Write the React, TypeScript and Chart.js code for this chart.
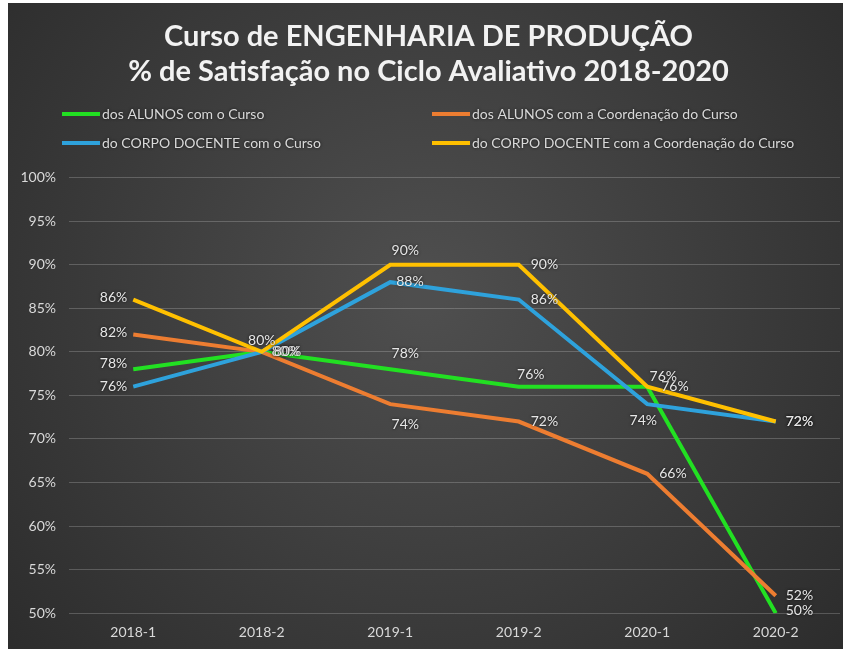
import React, { useEffect, useRef } from "react";
import { Chart, registerables } from "chart.js";

Chart.register(...registerables);

const categories = ["2018-1", "2018-2", "2019-1", "2019-2", "2020-1", "2020-2"];
const alunosCurso = [78, 80, 78, 76, 76, 50];
const alunosCoordenacao = [82, 80, 74, 72, 66, 52];
const docenteCurso = [76, 80, 88, 86, 74, 72];
const docenteCoordenacao = [86, 80, 90, 90, 76, 72];
const seriesNames = [
  "dos ALUNOS com o Curso",
  "dos ALUNOS com a Coordenação do Curso",
  "do CORPO DOCENTE com o Curso",
  "do CORPO DOCENTE com a Coordenação do Curso",
];
const titleLines = ["Curso de ENGENHARIA DE PRODUÇÃO", "% de Satisfação no Ciclo Avaliativo 2018-2020"];
const yMin = 50;
const yMax = 100;
const yStep = 5;

const colors = ["#22e022", "#ed7d31", "#2ea2dc", "#ffc000"];

// label placement per series/point: [mode, dx, dy]
const labelPlacement: [string, number, number][][] = [
  [["l", 0, -6], ["r", 4, 0], ["a", 15, -2], ["a", 12, 2], ["r", 8, 0], ["r", 4, -3]],
  [["l", 0, -2], ["r", 4, 0], ["b", 15, 6], ["r", 6, 0], ["r", 6, 0], ["r", 4, 0]],
  [["l", 0, 0], ["r", 6, 0], ["r", 0, -1], ["r", 6, 0], ["b", -4, 2], ["r", 4, 0]],
  [["l", 0, -2], ["a", 0, 3], ["a", 15, 0], ["r", 6, 0], ["a", 16, 4], ["r", 4, 0]],
];

const FONT = "Lato, 'Open Sans', sans-serif";

const bgPlugin = {
  id: "bg",
  beforeDraw(chart: any) {
    const { ctx, width, height } = chart;
    ctx.save();
    const g = ctx.createRadialGradient(width / 2, height * 0.45, 20, width / 2, height * 0.45, Math.max(width, height) * 0.7);
    g.addColorStop(0, "#4e4e4e");
    g.addColorStop(1, "#2a2a2a");
    ctx.fillStyle = g;
    ctx.fillRect(0, 0, width, height);
    ctx.restore();
  },
};

const legendPlugin = {
  id: "customLegend",
  afterDraw(chart: any) {
    const { ctx } = chart;
    const cols = [54, 424];
    const rows = [111, 140];
    ctx.save();
    ctx.font = `14px ${FONT}`;
    ctx.textBaseline = "middle";
    ctx.textAlign = "left";
    seriesNames.forEach((name, i) => {
      const x = cols[i % 2];
      const y = rows[Math.floor(i / 2)];
      ctx.strokeStyle = colors[i];
      ctx.lineWidth = 4;
      ctx.beginPath();
      ctx.moveTo(x, y);
      ctx.lineTo(x + 38, y);
      ctx.stroke();
      ctx.fillStyle = "#d9d9d9";
      ctx.shadowColor = "rgba(0,0,0,0.7)";
      ctx.shadowBlur = 3;
      ctx.fillText(name, x + 40, y);
      ctx.shadowBlur = 0;
    });
    ctx.restore();
  },
};

const dataLabelPlugin = {
  id: "pointLabels",
  afterDatasetsDraw(chart: any) {
    const { ctx } = chart;
    ctx.save();
    ctx.font = `14px ${FONT}`;
    ctx.fillStyle = "#e6e6e6";
    ctx.shadowColor = "rgba(0,0,0,0.8)";
    ctx.shadowBlur = 3;
    ctx.textBaseline = "middle";
    chart.data.datasets.forEach((ds: any, di: number) => {
      const meta = chart.getDatasetMeta(di);
      meta.data.forEach((pt: any, i: number) => {
        const [mode, dx, dy] = labelPlacement[di][i];
        let x = pt.x;
        let y = pt.y;
        if (mode === "l") {
          ctx.textAlign = "right";
          x -= 6;
        } else if (mode === "r") {
          ctx.textAlign = "left";
          x += 6;
        } else if (mode === "a") {
          ctx.textAlign = "center";
          y -= 14;
        } else {
          ctx.textAlign = "center";
          y += 14;
        }
        ctx.fillText(ds.data[i] + "%", x + dx, y + dy);
      });
    });
    ctx.restore();
  },
};

export default function App() {
  const ref = useRef<HTMLCanvasElement>(null);
  useEffect(() => {
    document.body.style.margin = "0";
    const datasets = [alunosCurso, alunosCoordenacao, docenteCurso, docenteCoordenacao].map((d, i) => ({
      label: seriesNames[i],
      data: d,
      borderColor: colors[i],
      backgroundColor: colors[i],
      borderWidth: 4,
      pointRadius: 0,
      tension: 0,
      order: 4 - i,
    }));
    const chart = new Chart(ref.current!, {
      type: "line",
      data: { labels: categories, datasets },
      plugins: [bgPlugin, legendPlugin, dataLabelPlugin],
      options: {
        animation: false,
        responsive: false,
        layout: { padding: { left: 9, right: 3, top: 0, bottom: -3 } },
        plugins: {
          legend: { display: false },
          tooltip: { enabled: false },
          title: {
            display: true,
            text: titleLines,
            color: "#f2f2f2",
            font: { family: FONT, size: 29, weight: "bold", lineHeight: 1.2 },
            padding: { top: 16, bottom: 89 },
          },
        },
        scales: {
          x: {
            offset: true,
            grid: { display: false, drawTicks: false },
            border: { display: false },
            ticks: { color: "#d9d9d9", font: { family: FONT, size: 14 }, padding: 11 },
          },
          y: {
            min: yMin,
            max: yMax,
            afterFit(scale: any) {
              scale.width = 52;
            },
            grid: { color: "rgba(255,255,255,0.2)", drawTicks: false },
            border: { display: false },
            ticks: {
              stepSize: yStep,
              color: "#d9d9d9",
              font: { family: FONT, size: 14 },
              padding: 13,
              callback: (v: any) => v + "%",
            },
          },
        },
      },
    } as any);
    return () => chart.destroy();
  }, []);
  return (
    <div style={{ padding: "3px 0 0 8px", background: "#fff" }}>
      <canvas ref={ref} width={835} height={646} style={{ display: "block" }} />
    </div>
  );
}
